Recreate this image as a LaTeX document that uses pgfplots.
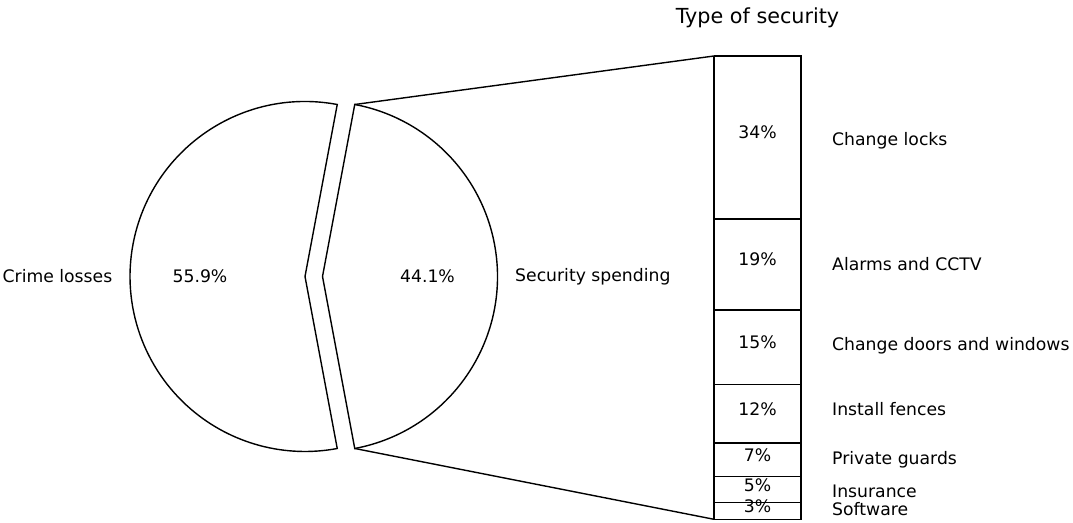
\documentclass[border=0pt]{standalone}
\usepackage{fontspec}
\setmainfont{DejaVu Sans}
\usepackage{pgfplots}
\pgfplotsset{compat=1.18}
\begin{document}
\fontsize{17.3}{20}\selectfont
\begin{tikzpicture}[every node/.style={inner sep=0pt}]
% pie data: security spending share (%)
\def\secshare{44.1}
\def\crimeshare{55.9}
\pgfmathsetmacro\ha{1.8*\secshare}
\pgfmathsetmacro\R{175}
\pgfmathsetmacro\cx{305}
\pgfmathsetmacro\cy{246.5}
\pgfmathsetmacro\ex{\cx+0.1*\R}
\pgfmathsetmacro\dx{\R*cos(\ha)}
\pgfmathsetmacro\dy{\R*sin(\ha)}
\begin{axis}[width=1073bp,height=523bp,scale only axis,hide axis,
  xmin=0,xmax=1073,ymin=0,ymax=523,clip=false]
% connection lines
\addplot[black,line width=1.4bp] coordinates {(\ex+\dx,\cy+\dy) (714,467)};
\addplot[black,line width=1.4bp] coordinates {(\ex+\dx,\cy-\dy) (714,3.7)};
% crime losses wedge
\draw[black,line width=1.4bp,fill=white,line join=miter]
  (axis cs:\cx,\cy) -- (axis cs:\cx+\dx,\cy+\dy)
  arc[start angle=\ha, end angle=360-\ha, radius=175bp] -- cycle;
% security spending wedge (exploded)
\draw[black,line width=1.4bp,fill=white,line join=miter]
  (axis cs:\ex,\cy) -- (axis cs:\ex+\dx,\cy-\dy)
  arc[start angle=-\ha, end angle=\ha, radius=175bp] -- cycle;
\node[anchor=east] at (axis cs:\cx-1.1*\R,\cy) {Crime losses};
\node at (axis cs:\cx-0.6*\R,\cy) {\crimeshare\%};
\node at (axis cs:\ex+0.6*\R,\cy) {\secshare\%};
\node[anchor=west] at (axis cs:\ex+1.1*\R,\cy) {Security spending};
% stacked bar segments
\addplot[black,line width=1.4bp,fill=white] coordinates {(714,467) (801,467) (801,304.1) (714,304.1) (714,467)};
\addplot[black,line width=1.4bp,fill=white] coordinates {(714,304.1) (801,304.1) (801,213) (714,213) (714,304.1)};
\addplot[black,line width=1.4bp,fill=white] coordinates {(714,213) (801,213) (801,138.6) (714,138.6) (714,213)};
\addplot[black,line width=1.4bp,fill=white] coordinates {(714,138.6) (801,138.6) (801,79.8) (714,79.8) (714,138.6)};
\addplot[black,line width=1.4bp,fill=white] coordinates {(714,79.8) (801,79.8) (801,46.3) (714,46.3) (714,79.8)};
\addplot[black,line width=1.4bp,fill=white] coordinates {(714,46.3) (801,46.3) (801,20.4) (714,20.4) (714,46.3)};
\addplot[black,line width=1.4bp,fill=white] coordinates {(714,20.4) (801,20.4) (801,3.7) (714,3.7) (714,20.4)};
% labels inside bars
\node at (axis cs:757.5,390.4) {34\%};
\node at (axis cs:757.5,263.4) {19\%};
\node at (axis cs:757.5,180.6) {15\%};
\node at (axis cs:757.5,114.0) {12\%};
\node at (axis cs:757.5,67.8) {7\%};
\node at (axis cs:757.5,38.2) {5\%};
\node at (axis cs:757.5,16.8) {3\%};
% category labels
\node[anchor=base west] at (axis cs:832,377.0) {Change locks};
\node[anchor=base west] at (axis cs:832,252.7) {Alarms and CCTV};
\node[anchor=base west] at (axis cs:832,172.0) {Change doors and windows};
\node[anchor=base west] at (axis cs:832,107.0) {Install fences};
\node[anchor=base west] at (axis cs:832,58.0) {Private guards};
\node[anchor=base west] at (axis cs:832,25.7) {Insurance};
\node[anchor=base west] at (axis cs:832,7.7) {Software};
\node[font=\fontsize{20.8}{24}\selectfont] at (axis cs:757.5,505.5) {Type of security};
\end{axis}
\pgfresetboundingbox
\useasboundingbox (0,0) rectangle (1073bp,523bp);
\end{tikzpicture}
\end{document}
